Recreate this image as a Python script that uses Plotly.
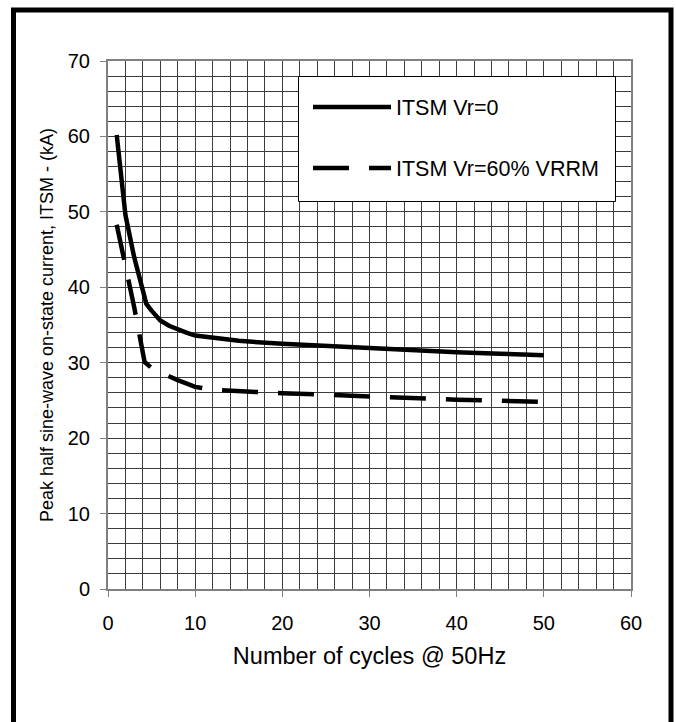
import plotly.graph_objects as go

# ---- data ----
cycles_a = [1, 2, 3, 4, 4.4, 5, 6, 7, 8, 9, 10, 15, 20, 25, 30, 35, 40, 45, 50]
itsm_vr0 = [60.2, 49.6, 44.0, 39.4, 37.8, 36.9, 35.6, 34.9, 34.4, 34.0, 33.6, 32.9, 32.5, 32.2, 31.9, 31.6, 31.4, 31.2, 31.0]
cycles_b = [1, 2, 3, 4, 4.2, 5, 6, 7, 8, 10, 12, 15, 20, 25, 30, 35, 40, 45, 50]
itsm_vr60 = [48.3, 43.0, 37.4, 31.3, 30.1, 29.3, 28.7, 28.2, 27.7, 26.8, 26.4, 26.2, 25.95, 25.75, 25.5, 25.3, 25.1, 24.95, 24.8]
name_a = "ITSM Vr=0"
name_b = "ITSM Vr=60% VRRM"
x_title = "Number of cycles @ 50Hz"
y_title = "Peak half sine-wave on-state current, ITSM - (kA)"

W, H = 676, 722
ML, MR, MT, MB = 108, 45, 61, 133
PW, PH = W - ML - MR, H - MT - MB

def px(xp):
    return (xp - ML) / PW

def py(yp):
    return (H - MB - yp) / PH

FONT = "Liberation Sans, Arial, sans-serif"
GRID = "#3c3c3c"
AX = "#808080"

fig = go.Figure()
fig.add_trace(go.Scatter(x=cycles_a, y=itsm_vr0, mode="lines", name=name_a,
                         line=dict(color="black", width=4.5),
                         legend="legend"))
fig.add_trace(go.Scatter(x=cycles_b, y=itsm_vr60, mode="lines", name=name_b,
                         line=dict(color="black", width=4.5, dash="36px,20px"),
                         legend="legend2"))

legend_common = dict(bgcolor="rgba(0,0,0,0)", borderwidth=0, itemwidth=78,
                     font=dict(family=FONT, size=21.5, color="black"),
                     xanchor="left", yanchor="middle", xref="paper", yref="paper",
                     itemclick=False, itemdoubleclick=False)

fig.update_layout(
    width=W, height=H,
    margin=dict(l=ML, r=MR, t=MT, b=MB, pad=0),
    paper_bgcolor="white", plot_bgcolor="white",
    font=dict(family=FONT, color="black"),
    showlegend=True,
    legend=dict(x=px(308), y=py(107), **legend_common),
    legend2=dict(x=px(308), y=py(168), **legend_common),
    xaxis=dict(range=[0, 60], dtick=10, tick0=0,
               showgrid=True, gridcolor=GRID, gridwidth=1,
               minor=dict(dtick=2, showgrid=True, gridcolor=GRID, gridwidth=1),
               showline=True, linecolor=AX, linewidth=2, mirror=True,
               ticks="outside", ticklen=6, tickcolor=AX, tickwidth=1,
               ticklabelstandoff=9,
               zeroline=False,
               tickfont=dict(family=FONT, size=20, color="black"),
               title=dict(text=x_title, font=dict(family=FONT, size=23.5, color="black"), standoff=15)),
    yaxis=dict(range=[0, 70], dtick=10, tick0=0,
               showgrid=True, gridcolor=GRID, gridwidth=1,
               minor=dict(dtick=2, showgrid=True, gridcolor=GRID, gridwidth=1),
               showline=True, linecolor=AX, linewidth=2, mirror=True,
               ticks="outside", ticklen=6, tickcolor=AX, tickwidth=1,
               ticklabelstandoff=6,
               zeroline=False,
               tickfont=dict(family=FONT, size=20, color="black"),
               title=dict(text=y_title, font=dict(family=FONT, size=18, color="black"), standoff=9)),
    shapes=[
        # legend box
        dict(type="rect", xref="paper", yref="paper",
             x0=px(298.5), x1=px(615.5), y0=py(201.5), y1=py(76.5),
             line=dict(color="black", width=1), fillcolor="white", layer="above"),
        # outer frame
        dict(type="path", xref="paper", yref="paper",
             path=f"M {px(13.5)},{py(740)} L {px(13.5)},{py(10)} L {px(671)},{py(10)} L {px(671)},{py(740)}",
             line=dict(color="black", width=5)),
    ],
)

fig.write_html("out.html")
